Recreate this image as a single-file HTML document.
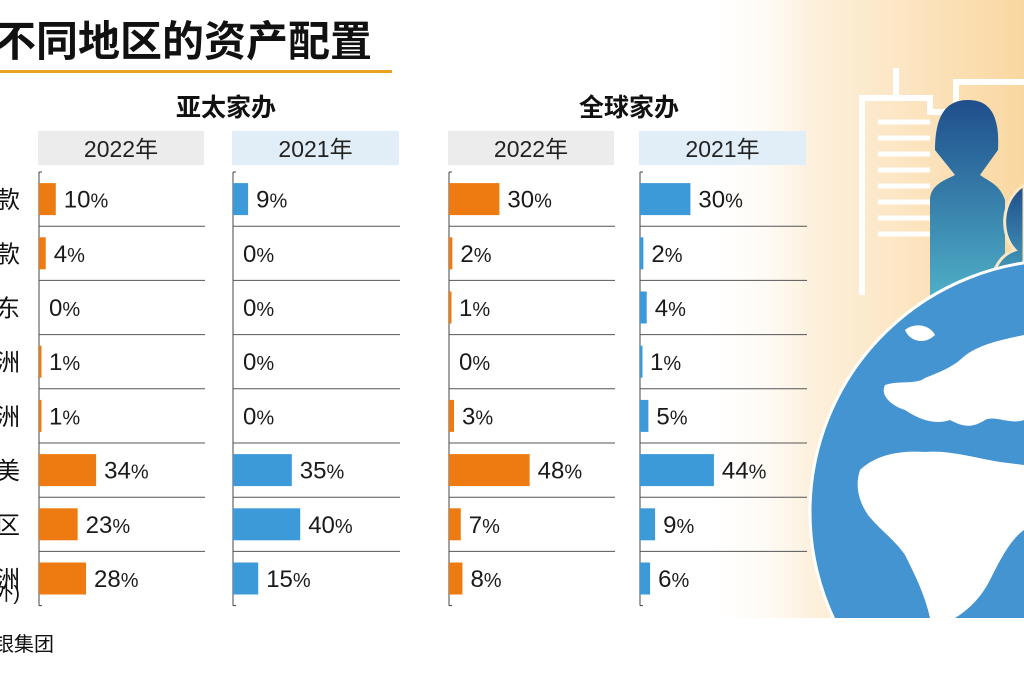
<!DOCTYPE html>
<html><head><meta charset="utf-8">
<style>
html,body{margin:0;padding:0;background:#fff;overflow:hidden;width:1024px;height:682px;}
body{position:relative;font-family:"Liberation Sans","Noto Sans CJK SC",sans-serif;}
svg{position:absolute;left:0;top:0;display:block;overflow:hidden;}
</style></head>
<body>
<svg id="chart" width="1024" height="682" viewBox="0 0 1024 682" xmlns="http://www.w3.org/2000/svg">
<defs>
<linearGradient id="bgH" x1="0" x2="1" y1="0" y2="0">
<stop offset="0" stop-color="#fff" stop-opacity="0"/>
<stop offset="0.35" stop-color="#fdf0dc" stop-opacity="1"/>
<stop offset="1" stop-color="#fad7a0"/>
</linearGradient>
<linearGradient id="person" x1="0" x2="0" y1="0" y2="1">
<stop offset="0" stop-color="#1f4e8c"/>
<stop offset="1" stop-color="#4fb0c8"/>
</linearGradient>
<clipPath id="illClip"><rect x="700" y="0" width="324" height="618"/></clipPath>
</defs>
<g clip-path="url(#illClip)">
<rect x="700" y="0" width="324" height="618" fill="url(#bgH)"/>
<g fill="none" stroke="#fff" stroke-width="6">
<path d="M862 295 V98 H896 V68 M896 98 H930 V112 H950"/>
<path d="M956 115 V82 H1024"/>
</g>
<g stroke="#fff" stroke-width="5">
<line x1="878" y1="122" x2="930" y2="122"/><line x1="878" y1="138" x2="930" y2="138"/>
<line x1="878" y1="154" x2="930" y2="154"/><line x1="878" y1="170" x2="930" y2="170"/>
<line x1="878" y1="186" x2="930" y2="186"/><line x1="878" y1="202" x2="930" y2="202"/>
<line x1="878" y1="218" x2="930" y2="218"/><line x1="878" y1="234" x2="930" y2="234"/>
</g>
<path d="M930 300 V200 C930 185 945 180 955 175 L935 150 C935 110 950 100 968 100 C988 100 1000 112 998 150 L980 175 C990 182 1000 185 1005 200 V300 Z" fill="url(#person)"/>
<path d="M990 300 C990 270 1000 255 1015 250 C1000 235 1000 200 1024 185 V300 Z" fill="url(#person)" stroke="#fde6c2" stroke-width="3"/>
<circle cx="1062" cy="512" r="252" fill="#4494d2" stroke="#fff" stroke-width="3"/>
<path d="M905 330 C915 322 930 325 935 335 C925 345 910 342 905 330 Z M960 360 C975 345 1000 340 1024 335 V420 C1010 425 995 415 985 420 C970 430 960 425 950 420 C935 425 920 420 905 410 C890 405 880 395 885 385 C900 380 915 385 925 378 C940 372 950 368 960 360 Z" fill="#fff"/>
<path d="M860 470 C875 455 900 450 925 452 C950 450 975 458 1000 462 L1024 465 V530 C1010 540 1000 560 990 580 C980 600 965 612 955 618 H930 C925 595 915 575 905 555 C895 540 880 530 868 515 C858 500 855 485 860 470 Z" fill="#fff"/>
</g>
<g>
<text x="-6" y="56" font-size="42" font-weight="bold" fill="#111">不同地区的资产配置</text>
<rect x="0" y="70" width="392" height="3" fill="#eaa321"/>
<text x="226" y="116" font-size="25" font-weight="bold" fill="#111" text-anchor="middle">亚太家办</text>
<text x="629" y="116" font-size="25" font-weight="bold" fill="#111" text-anchor="middle">全球家办</text>
<text x="-6" y="651" font-size="20" fill="#111">银集团</text>
</g>
<g id="rows"></g>
<g id="panels"></g>
</svg>
<script>
const categories = ["存款", "现金存款", "中东", "非洲", "拉美洲", "北美", "亚太地区", "欧洲(英国以外)"];
const rowLabels = ["款", "款", "东", "洲", "洲", "美", "区", "洲"];
const apac2022 = [10, 4, 0, 1, 1, 34, 23, 28];
const apac2021 = [9, 0, 0, 0, 0, 35, 40, 15];
const global2022 = [30, 2, 1, 0, 3, 48, 7, 8];
const global2021 = [30, 2, 4, 1, 5, 44, 9, 6];
const panelTitles = ["2022年", "2021年", "2022年", "2021年"];

const NS = "http://www.w3.org/2000/svg";
const rowTop = 172, rowH = 54.2;
const pxPerPct = 1.68;
function yCenter(i){ return rowTop + rowH*i + rowH/2; }
function xScale(v){ return v*pxPerPct; }
function mk(tag, attrs, parent){ const e=document.createElementNS(NS,tag); for(const k in attrs) e.setAttribute(k,attrs[k]); parent.appendChild(e); return e; }

const rowsG = document.getElementById('rows');
rowLabels.forEach((l,i)=>{
  const t = mk('text',{x:20,y:yCenter(i)+9,'font-size':24,fill:'#111','text-anchor':'end'},rowsG);
  t.textContent = l;
  
  
});
const t2 = mk('text',{x:20,y:600,'font-size':20,fill:'#111','text-anchor':'end'},rowsG);
t2.textContent = "外)";



const panels = [
  {x:39, w:166, data:apac2022, color:'#ee7b11', hdr:'#ececec', name:'apac-2022'},
  {x:233, w:167, data:apac2021, color:'#3d9ad8', hdr:'#e2eef7', name:'apac-2021'},
  {x:449, w:166, data:global2022, color:'#ee7b11', hdr:'#ececec', name:'global-2022'},
  {x:640, w:167, data:global2021, color:'#3d9ad8', hdr:'#e2eef7', name:'global-2021'}
];
const pg = document.getElementById('panels');
panels.forEach((p,pi)=>{
  const g = mk('g',{},pg);
  
  
  const h = mk('rect',{x:p.x-1,y:131,width:p.w,height:34,fill:p.hdr},g);
  
  
  const ht = mk('text',{x:p.x-1+p.w/2,y:157,'font-size':23,fill:'#222','text-anchor':'middle'},g);
  ht.textContent = panelTitles[pi];
  
  
  const ax = mk('line',{x1:p.x,x2:p.x,y1:rowTop,y2:rowTop+rowH*8,stroke:'#444','stroke-width':1},g);
  
  
  mk('line',{x1:p.x,x2:p.x+3,y1:rowTop,y2:rowTop,stroke:'#444'},g);
  mk('line',{x1:p.x,x2:p.x+3,y1:rowTop+rowH*8,y2:rowTop+rowH*8,stroke:'#444'},g);
  for(let i=1;i<8;i++){
    const sep = mk('line',{x1:p.x,x2:p.x+p.w,y1:rowTop+rowH*i,y2:rowTop+rowH*i,stroke:'#555','stroke-width':1},g);
    
    
  }
  p.data.forEach((v,i)=>{
    const w = xScale(v);
    const yc = yCenter(i);
    if (v>0){
      const b = mk('rect',{x:p.x,y:yc-16,width:Math.max(w,2.5),height:32,fill:p.color},g);
      
      
    }
    const lt = mk('text',{x:p.x+Math.max(w,2)+8,y:yc+8.5,'font-size':24,fill:'#1a1a1a'},g);
    lt.innerHTML = v+'<tspan font-size="20">%</tspan>';
    
    
  });
});
</script>
</body></html>
